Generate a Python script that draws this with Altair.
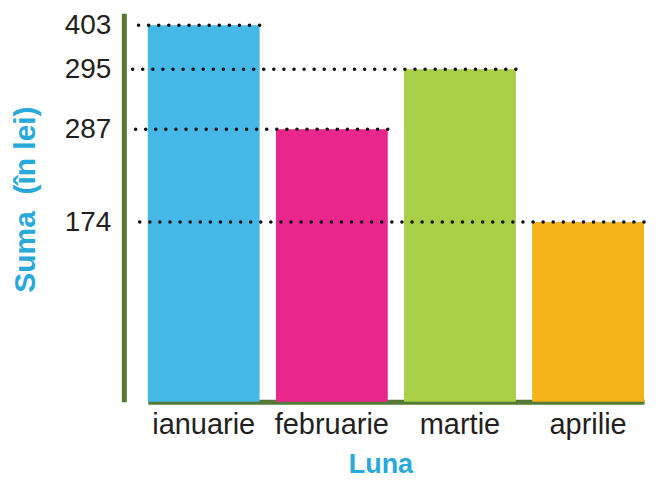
import altair as alt
import pandas as pd

months = ["ianuarie", "februarie", "martie", "aprilie"]
sums = [403, 287, 295, 174]
colors = ["#45b8e8", "#e9268c", "#a8cf45", "#f5b31b"]
ticks = [403, 295, 287, 174]

df = pd.DataFrame({"luna": months, "suma": sums, "culoare": colors})

W, H = 540, 389

# piecewise scale, as drawn in the original picture (axis extends a little above 403)
y_scale = alt.Scale(domain=[0, 174, 287, 295, 403, 432], range=[H, 209, 116, 56, 12, 0])
x_scale = alt.Scale(domain=months, range=[24, 521], paddingInner=0.127, paddingOuter=0)

bars = alt.Chart(df).mark_bar().encode(
    x=alt.X("luna:N", scale=x_scale, sort=months,
            axis=alt.Axis(title="Luna", labelAngle=0, labelFontSize=29, labelColor="#231f20",
                          labelFont="Liberation Sans", labelPadding=9, ticks=False,
                          domainColor="#557a36", domainWidth=5,
                          titleFont="Liberation Sans", titleFontSize=27, titleFontWeight="bold",
                          titleColor="#29a9d9", titleX=257, titleY=71, titleBaseline="alphabetic")),
    y=alt.Y("suma:Q", scale=y_scale,
            axis=alt.Axis(title="Suma\u00a0 (în lei)", values=ticks, labelFontSize=28,
                          labelColor="#231f20", labelFont="Liberation Sans", labelPadding=13,
                          ticks=False, grid=False, domainColor="#557a36", domainWidth=5,
                          titleFont="Liberation Sans", titleFontSize=30, titleFontWeight="bold",
                          titleColor="#29a9d9", titleX=-89, titleY=186, titleAngle=-90,
                          titleBaseline="alphabetic")),
    color=alt.Color("culoare:N", scale=None),
)

rules = alt.Chart(df).mark_rule(color="#111111", strokeWidth=3.5, strokeDash=[0.1, 10],
                                strokeCap="round").encode(
    x=alt.X("luna:N", scale=x_scale, sort=months, bandPosition=1),
    x2=alt.value(6),
    y=alt.Y("suma:Q", scale=y_scale),
)

chart = (bars + rules).properties(
    width=W, height=H,
    autosize=alt.AutoSizeParams(type="none"),
    padding={"left": 116, "top": 5, "right": 0, "bottom": 78},
).configure_view(stroke=None)

chart.save("out.html", embed_options={"renderer": "svg", "actions": False})
